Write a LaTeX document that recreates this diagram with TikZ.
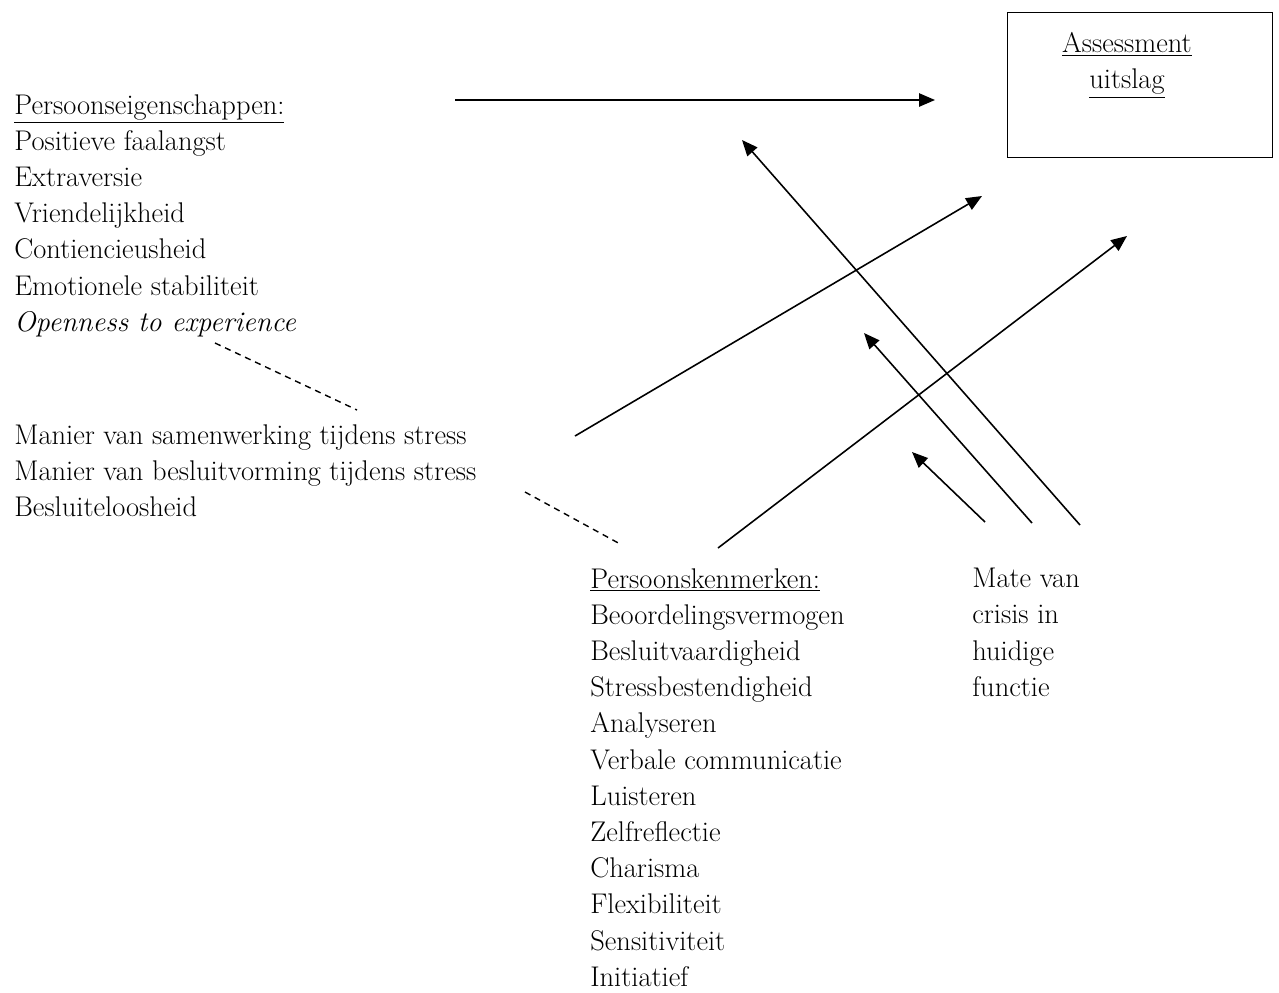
\documentclass[tikz,border=0pt]{standalone}
\usepackage{tikz}
\usetikzlibrary{arrows.meta, positioning}

\begin{document}
\begin{tikzpicture}[
    x=0.02cm, y=-0.02cm,
    tekst/.style={
        align=left, anchor=north west, inner sep=0pt,
        font=\fontsize{16.2}{20.6}\selectfont
    },
    kader/.style={
        rectangle, draw, line width=0.7pt, anchor=north west,
        minimum width=5.3cm, minimum height=2.9cm
    },
    pijl/.style={-{Triangle[length=9pt, width=7.5pt]}, line width=0.9pt},
    stippel/.style={dashed, dash pattern=on 3.5pt off 2.8pt, line width=0.8pt},
]
\useasboundingbox (0,0) rectangle (1279,992);

\node[kader] (uitslag) at (1007,12) {};
\node[tekst, anchor=north, align=center] (uitslagtekst) at (1127,32)
    {\underline{Assessment}\\\underline{uitslag}};

\node[tekst] (eigensch) at (14,94) {\underline{Persoonseigenschappen:}\\
    Positieve faalangst\\
    Extraversie\\
    Vriendelijkheid\\
    Contiencieusheid\\
    Emotionele stabiliteit\\
    \textit{Openness to experience}};

\node[tekst] (stress) at (14,424) {Manier van samenwerking tijdens stress\\
    Manier van besluitvorming tijdens stress\\
    Besluiteloosheid};

\node[tekst] (kenmerk) at (590,568) {\underline{Persoonskenmerken:}\\
    Beoordelingsvermogen\\
    Besluitvaardigheid\\
    Stressbestendigheid\\
    Analyseren\\
    Verbale communicatie\\
    Luisteren\\
    Zelfreflectie\\
    Charisma\\
    Flexibiliteit\\
    Sensitiviteit\\
    Initiatief};

\node[tekst] (crisis) at (972,568) {Mate van\\crisis in\\huidige\\functie};

% losse eindpunten van de pijlen
\coordinate (eig-van) at (455,100);
\coordinate (eig-naar) at (935,100);
\coordinate (str-van) at (575,436);
\coordinate (str-naar) at (982,196);
\coordinate (ken-van) at (718,548);
\coordinate (ken-naar) at (1127,236);
\coordinate (cr1-van) at (1080,525);
\coordinate (cr1-naar) at (742,140);
\coordinate (cr2-van) at (1032,523);
\coordinate (cr2-naar) at (864,333);
\coordinate (cr3-van) at (985,522);
\coordinate (cr3-naar) at (912,452);
\coordinate (st1-van) at (215,343);
\coordinate (st1-naar) at (357,410);
\coordinate (st2-van) at (525,492);
\coordinate (st2-naar) at (622,545);

\draw[pijl] (eig-van) -- (eig-naar);
\draw[pijl] (str-van) -- (str-naar);
\draw[pijl] (ken-van) -- (ken-naar);
\draw[pijl] (cr1-van) -- (cr1-naar);
\draw[pijl] (cr2-van) -- (cr2-naar);
\draw[pijl] (cr3-van) -- (cr3-naar);

\draw[stippel] (st1-van) -- (st1-naar);
\draw[stippel] (st2-van) -- (st2-naar);

\end{tikzpicture}
\end{document}
